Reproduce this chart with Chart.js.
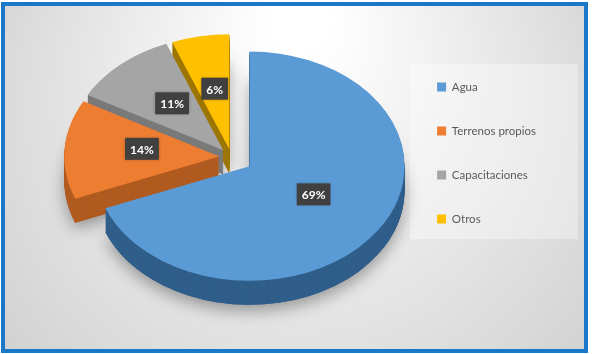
<!DOCTYPE html>
<html>
<head>
<meta charset="utf-8">
<script src="https://cdn.jsdelivr.net/npm/chart.js@4"></script>
<style>html,body{margin:0;padding:0;background:#fff}</style>
</head>
<body>
<canvas id="myChart" width="592" height="354"></canvas>
<script>
// data
var categories = ['Agua', 'Terrenos propios', 'Capacitaciones', 'Otros'];
var values = [69, 14, 11, 6];
var topColors = ['#5B9BD5', '#ED7D31', '#A5A5A5', '#FFC000'];
var sideColors = ['#2F5E8A', '#B05B20', '#7A7A7A', '#9C7600'];
var explode = [22, 12, 12, 11];

var tilt = 0.74, depth = 24, drop = 4;
var total = values.reduce(function (a, b) { return a + b; }, 0);

// backdrop, legend panel and blue frame
var backdrop = {
    id: 'backdrop',
    beforeDraw: function (chart) {
        var c = chart.ctx, w = chart.width, h = chart.height;
        c.save();
        c.fillStyle = '#fff';
        c.fillRect(0, 0, w, h);
        var g = c.createRadialGradient(300, 20, 30, 300, 150, 380);
        g.addColorStop(0, '#ffffff');
        g.addColorStop(1, '#cfcfcf');
        c.fillStyle = g;
        c.fillRect(3, 3, 584, 348);
        c.fillStyle = 'rgba(255,255,255,0.35)';
        c.fillRect(410, 64, 168, 175);
        c.strokeStyle = '#1a78c8';
        c.lineWidth = 4;
        c.strokeRect(3, 4, 583, 347);
        c.restore();
    }
};

// fake 3d: squash the library's arcs, stack darker copies underneath
var pie3d = {
    id: 'pie3d',
    beforeDatasetsDraw: function (chart) {
        var c = chart.ctx, arcs = chart.getDatasetMeta(0).data;
        var cx = arcs[0].x, cy = arcs[0].y;

        function paint(a, i, dy, color) {
            var mid = (a.startAngle + a.endAngle) / 2;
            c.save();
            c.translate(cx, cy + drop + dy);
            c.scale(1, tilt);
            c.translate(Math.cos(mid) * explode[i] - cx, Math.sin(mid) * explode[i] - cy);
            var o = a.options;
            if (color) a.options = Object.assign({}, o, {backgroundColor: color, borderWidth: 0});
            a.draw(c);
            a.options = o;
            c.restore();
        }

        // soft shadow under the pie
        c.save();
        c.shadowColor = 'rgba(0,0,0,0.35)';
        c.shadowBlur = 16;
        c.shadowOffsetY = 6;
        arcs.forEach(function (a, i) { paint(a, i, depth, sideColors[i]); });
        c.restore();

        for (var d = depth; d >= 1; d--) {
            arcs.forEach(function (a, i) { paint(a, i, d, sideColors[i]); });
        }
        arcs.forEach(function (a, i) { paint(a, i, 0, null); });

        // percentage labels
        c.save();
        c.font = 'bold 12px Lato';
        c.textAlign = 'center';
        c.textBaseline = 'middle';
        arcs.forEach(function (a, i) {
            var mid = (a.startAngle + a.endAngle) / 2;
            var r = explode[i] + a.outerRadius * 0.5;
            var x = cx + Math.cos(mid) * r, y = cy + Math.sin(mid) * r * tilt;
            var txt = Math.round(values[i] / total * 100) + '%';
            var tw = c.measureText(txt).width;
            c.shadowColor = 'rgba(0,0,0,0.3)';
            c.shadowBlur = 3;
            c.fillStyle = '#404040';
            c.fillRect(x - tw / 2 - 5, y - 11, tw + 10, 22);
            c.shadowColor = 'transparent';
            c.fillStyle = '#fff';
            c.fillText(txt, x, y + 1);
        });
        c.restore();
        return false;
    }
};

var ctx = document.getElementById('myChart').getContext('2d');

var chart = new Chart(ctx, {
    type: 'pie',
    data: {
        labels: categories,
        datasets: [{
            data: values,
            backgroundColor: topColors,
            borderWidth: 0
        }]
    },
    options: {
        responsive: false,
        animation: false,
        radius: 155,
        layout: { padding: { left: 58, top: 0, bottom: 48, right: 46 } },
        plugins: {
            tooltip: { enabled: false },
            legend: {
                position: 'right',
                align: 'center',
                labels: {
                    boxWidth: 9,
                    boxHeight: 9,
                    padding: 32.5,
                    color: '#595959',
                    font: { family: 'Lato', size: 11.5 }
                }
            }
        }
    },
    plugins: [backdrop, pie3d]
});
</script>
</body>
</html>
